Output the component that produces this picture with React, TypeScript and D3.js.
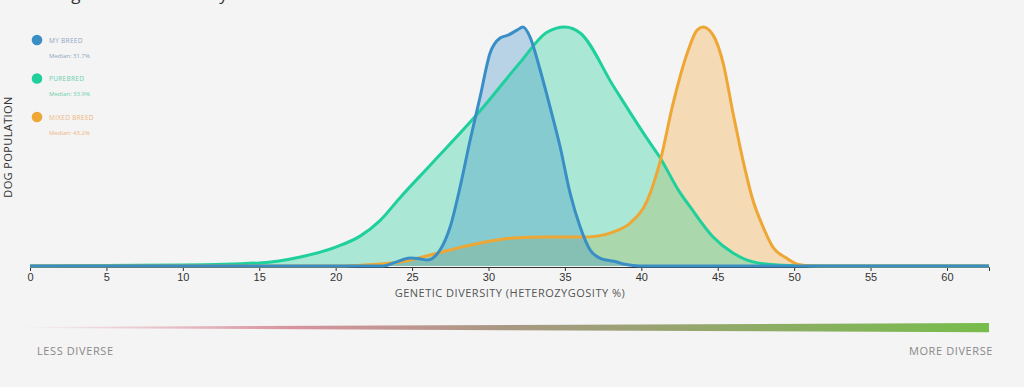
import React, { useEffect, useRef } from "react";
import * as d3 from "d3";

// density curves: [heterozygosity %, relative density]
const myBreed: [number, number][] = [
  [0, 0], [23.1, 0], [23.9, 0.015], [24.87, 0.033], [25.5, 0.03], [25.98, 0.025],
  [26.83, 0.067], [27.49, 0.163], [28.14, 0.33], [28.8, 0.527], [29.45, 0.707],
  [30.1, 0.89], [30.76, 0.954], [31.28, 0.966], [31.87, 0.987], [32.26, 1],
  [32.72, 0.958], [33.38, 0.82], [34.03, 0.665], [34.69, 0.498], [35.34, 0.305],
  [36, 0.163], [36.65, 0.067], [37.4, 0.03], [38.2, 0.02], [39.0, 0.006],
  [39.9, 0], [62.75, 0],
];

const purebred: [number, number][] = [
  [0, 0], [5, 0.002], [10, 0.004], [15, 0.013], [17.7, 0.038], [20, 0.079],
  [21.6, 0.125], [22.9, 0.19], [24.2, 0.285], [26.2, 0.423], [29.5, 0.653],
  [32.1, 0.854], [33.8, 0.977], [35, 1], [36, 0.975], [38.2, 0.75],
  [40.4, 0.531], [41.2, 0.456], [42.5, 0.31], [43.2, 0.247], [44.7, 0.121],
  [46, 0.054], [47.6, 0.013], [49.7, 0.002], [52, 0], [62.75, 0],
];

const mixedBreed: [number, number][] = [
  [0, 0], [20.3, 0], [22.05, 0.005], [24.2, 0.017], [26.2, 0.046], [28.3, 0.08],
  [30.56, 0.109], [31.6, 0.117], [33.8, 0.121], [36, 0.121], [37.1, 0.125],
  [38.15, 0.142], [39.27, 0.18], [40.4, 0.276], [41.2, 0.43], [42.08, 0.68],
  [43, 0.89], [43.65, 0.987], [44.03, 1], [44.7, 0.966], [45.35, 0.85],
  [46, 0.64], [46.66, 0.44], [47.3, 0.276], [47.97, 0.163], [48.6, 0.08],
  [49.5, 0.033], [50.2, 0.008], [51, 0.001], [52, 0], [62.75, 0],
];

const seriesNames = ["MY BREED", "PUREBRED", "MIXED BREED"];
const medians = ["Median: 31.7%", "Median: 33.9%", "Median: 43.2%"];
const tickValues = [0, 5, 10, 15, 20, 25, 30, 35, 40, 45, 50, 55, 60];

const WIDTH = 1024;
const HEIGHT = 387;
const FONT = "'Open Sans', 'DejaVu Sans', sans-serif";

const series = [
  { name: seriesNames[0], median: medians[0], data: myBreed, stroke: "#3a8ec6", fill: "rgba(58,142,198,0.32)", text: "#8ea6bf" },
  { name: seriesNames[1], median: medians[1], data: purebred, stroke: "#1fd09c", fill: "rgba(31,208,156,0.35)", text: "#6ccfab" },
  { name: seriesNames[2], median: medians[2], data: mixedBreed, stroke: "#eea634", fill: "rgba(242,166,58,0.34)", text: "#efb47f" },
];
// fills: mixed, purebred, my breed; outlines on top of all fills
const areaOrder = [2, 1, 0];
const lineOrder = [1, 2, 0];

export default function App() {
  const axisRef = useRef<SVGGElement>(null);

  const x = d3.scaleLinear().domain([0, 62.75]).range([30, 989]);
  const y = d3.scaleLinear().domain([0, 1]).range([266, 27]);

  const area = d3
    .area<[number, number]>()
    .x((d) => x(d[0]))
    .y0(y(0))
    .y1((d) => y(d[1]))
    .curve(d3.curveMonotoneX);
  const line = d3
    .line<[number, number]>()
    .x((d) => x(d[0]))
    .y((d) => y(d[1]))
    .curve(d3.curveMonotoneX);

  useEffect(() => {
    if (!axisRef.current) return;
    const g = d3.select(axisRef.current);
    g.call(d3.axisBottom(x).tickValues(tickValues).tickSize(4).tickSizeOuter(4));
    g.select(".domain").attr("stroke", "#333");
    g.selectAll(".tick line").attr("stroke", "#333");
    g.selectAll(".tick text")
      .attr("font-family", "'Liberation Sans', Arial, sans-serif")
      .attr("font-size", 11)
      .attr("fill", "#333")
      .attr("dy", "0.6em");
  }, []);

  return (
    <svg
      width={WIDTH}
      height={HEIGHT}
      style={{ position: "absolute", left: 0, top: 0, background: "#f4f4f4" }}
    >
      <defs>
        <linearGradient id="diverse" x1="0" x2="1" y1="0" y2="0">
          <stop offset="0%" stopColor="#e08a9c" stopOpacity={0} />
          <stop offset="28%" stopColor="#d38995" stopOpacity={0.9} />
          <stop offset="50%" stopColor="#a89883" />
          <stop offset="100%" stopColor="#77bd4b" />
        </linearGradient>
      </defs>

      {/* title, mostly cut off at the top as in the reference */}
      <text x={26} y={0} fontFamily={FONT} fontSize={17} fill="#333">
        Average Genetic Diversity
      </text>

      <g ref={axisRef} transform="translate(0,267)" />

      {areaOrder.map((i) => (
        <path key={"a" + i} d={area(series[i].data) ?? ""} fill={series[i].fill} />
      ))}
      {lineOrder.map((i) => (
        <path
          key={"l" + i}
          d={line(series[i].data) ?? ""}
          fill="none"
          stroke={series[i].stroke}
          strokeWidth={3}
          strokeLinejoin="round"
        />
      ))}

      <text x={510} y={297} textAnchor="middle" fontFamily={FONT} fontSize={11} letterSpacing={0.5} fill="#555">
        GENETIC DIVERSITY (HETEROZYGOSITY %)
      </text>

      <text
        transform="translate(12,147) rotate(-90)"
        textAnchor="middle"
        fontFamily={FONT}
        fontSize={11}
        letterSpacing={0.4}
        fill="#333"
      >
        DOG POPULATION
      </text>

      {series.map((s, i) => (
        <g key={s.name} transform={`translate(37,${40 + i * 38.5})`}>
          <circle r={5.3} fill={s.stroke} />
          <text x={12} y={2.5} fontFamily={FONT} fontSize={6.5} letterSpacing={0.3} fill={s.text}>
            {s.name}
          </text>
          <text x={12} y={17.5} fontFamily={FONT} fontSize={6} fill={s.text}>
            {s.median}
          </text>
        </g>
      ))}

      <path
        d={`M${x(-0.65)},327 L${x(62.75)},323 L${x(62.75)},332.3 L${x(-0.65)},328 Z`}
        fill="url(#diverse)"
      />
      <text x={37} y={355} fontFamily={FONT} fontSize={11} letterSpacing={0.6} fill="#888">
        LESS DIVERSE
      </text>
      <text x={993} y={355} textAnchor="end" fontFamily={FONT} fontSize={11} letterSpacing={0.6} fill="#888">
        MORE DIVERSE
      </text>
    </svg>
  );
}
